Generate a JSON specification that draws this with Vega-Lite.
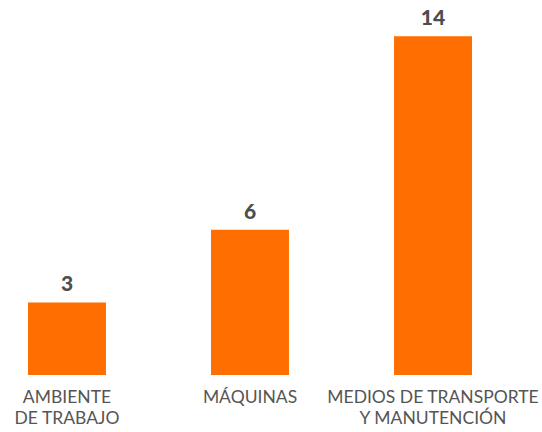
{
  "$schema": "https://vega.github.io/schema/vega-lite/v6.json",
  "width": 500,
  "height": 375,
  "autosize": {"type": "none"},
  "padding": {"left": 0, "top": 0, "right": 42, "bottom": 57},
  "background": "white",
  "config": {"view": {"stroke": null}},
  "data": {
    "values": [
      {"categoria": "AMBIENTE\nDE TRABAJO", "valor": 3},
      {"categoria": "MÁQUINAS", "valor": 6},
      {"categoria": "MEDIOS DE TRANSPORTE\nY MANUTENCIÓN", "valor": 14}
    ]
  },
  "encoding": {
    "x": {
      "field": "categoria",
      "type": "nominal",
      "sort": null,
      "scale": {"paddingInner": 0.574, "paddingOuter": 0.153},
      "axis": {
        "title": null,
        "domain": false,
        "ticks": false,
        "labelAngle": 0,
        "labelPadding": 13,
        "labelFont": "Lato",
        "labelFontSize": 17.5,
        "labelColor": "#555555",
        "labelLineHeight": 21,
        "labelLimit": 0,
        "labelOverlap": false,
        "labelBound": false,
        "labelFlush": false,
        "labelExpr": "split(datum.label, '\\n')"
      }
    },
    "y": {
      "field": "valor",
      "type": "quantitative",
      "scale": {"domain": [0, 15.5]},
      "axis": null
    }
  },
  "layer": [
    {"mark": {"type": "bar", "color": "#FF6E00"}},
    {
      "mark": {
        "type": "text",
        "baseline": "alphabetic",
        "dy": -11,
        "font": "Lato",
        "fontSize": 21,
        "fontWeight": 900,
        "color": "#4D4D4D"
      },
      "encoding": {"text": {"field": "valor", "type": "quantitative"}}
    }
  ]
}
